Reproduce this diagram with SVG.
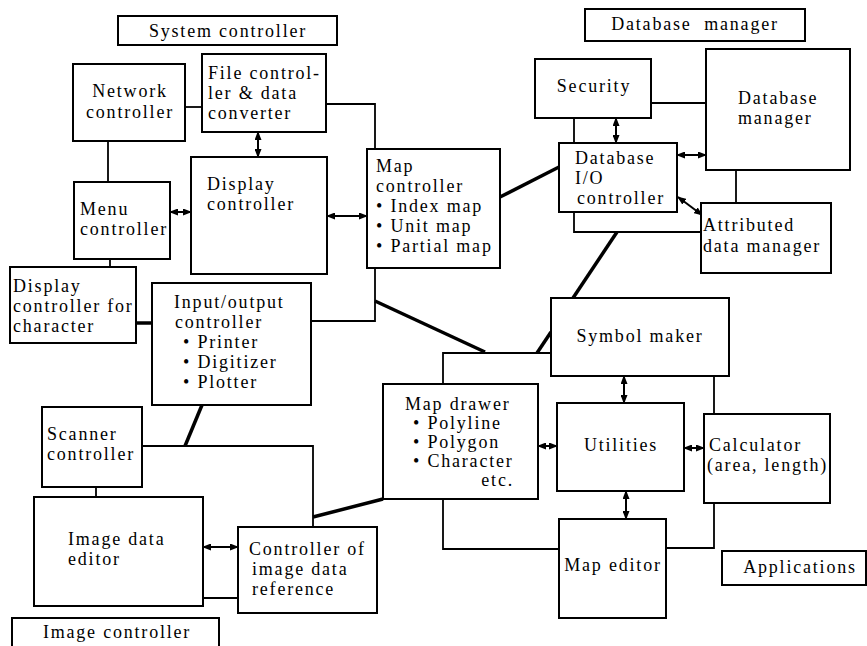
<svg xmlns="http://www.w3.org/2000/svg" width="867" height="646" viewBox="0 0 867 646">
<style>
.box{fill:#fff;stroke:#000;stroke-width:2}
.t{font-family:"Liberation Serif","Times New Roman",serif;font-size:18px;letter-spacing:1.8px;fill:#000}
.m{text-anchor:middle}
.ln{fill:none;stroke:#000;stroke-width:1.8}
.thk{fill:none;stroke:#000;stroke-width:3.5}
.arr{fill:none;stroke:#000;stroke-width:2;marker-start:url(#ah);marker-end:url(#ah)}
</style>
<defs>
<marker id="ah" markerUnits="userSpaceOnUse" markerWidth="9" markerHeight="7" refX="8" refY="3.5" orient="auto-start-reverse">
<path d="M0,0 L9,3.5 L0,7 z" fill="#000"/>
</marker>
</defs>
<rect width="867" height="646" fill="#fff"/>
<g id="connectors">
<path class="ln" d="M185,107 H202"/>
<path class="ln" d="M326,104 H375 V321 H311"/>
<path class="ln" d="M108,141 V182"/>
<path class="ln" d="M110,259 V267"/>
<path class="thk" d="M136,323 H152"/>
<path class="thk" d="M202,405 L185,446"/>
<path class="ln" d="M142,446 H313 V527"/>
<path class="ln" d="M96,487 V497"/>
<path class="ln" d="M203,598 H238"/>
<path class="thk" d="M313,517 L383,499"/>
<path class="thk" d="M375,301 L485,352"/>
<path class="ln" d="M551,353 H443 V549 H559"/>
<path class="thk" d="M537,353 L551,332"/>
<path class="ln" d="M714,376 V548 H666"/>
<path class="thk" d="M500,197 L559,167"/>
<path class="thk" d="M617,232 L573,298"/>
<path class="ln" d="M651,103 H706"/>
<path class="ln" d="M574,118 V232 H701"/>
<path class="ln" d="M736,170 V203"/>
<path class="arr" d="M258,132 V157"/>
<path class="arr" d="M170,212 H191"/>
<path class="arr" d="M327,216 H367"/>
<path class="arr" d="M616,118 V143"/>
<path class="arr" d="M677,155 H706"/>
<path class="arr" d="M678,197 L702,215"/>
<path class="arr" d="M203,547 H238"/>
<path class="arr" d="M538,446 H557"/>
<path class="arr" d="M624,376 V403"/>
<path class="arr" d="M684,448 H704"/>
<path class="arr" d="M626,491 V519"/>
</g>
<g id="label-system-controller">
<rect class="box" x="118" y="16" width="219" height="29"/>
<text class="t m" x="228" y="37">System controller</text>
</g>
<g id="network-controller">
<rect class="box" x="73" y="64" width="112" height="77"/>
<text class="t m" x="130" y="97">Network</text>
<text class="t m" x="130" y="118">controller</text>
</g>
<g id="file-controller">
<rect class="box" x="202" y="54" width="124" height="78"/>
<text class="t" x="208" y="79">File control-</text>
<text class="t" x="208" y="99">ler &amp; data</text>
<text class="t" x="208" y="119">converter</text>
</g>
<g id="display-controller">
<rect class="box" x="191" y="157" width="136" height="117"/>
<text class="t" x="207" y="190">Display</text>
<text class="t" x="207" y="210">controller</text>
</g>
<g id="menu-controller">
<rect class="box" x="74" y="182" width="96" height="77"/>
<text class="t" x="80" y="215">Menu</text>
<text class="t" x="80" y="235">controller</text>
</g>
<g id="display-controller-character">
<rect class="box" x="10" y="267" width="126" height="76"/>
<text class="t" x="13" y="292">Display</text>
<text class="t" x="13" y="312">controller for</text>
<text class="t" x="13" y="332">character</text>
</g>
<g id="io-controller">
<rect class="box" x="152" y="283" width="159" height="122"/>
<text class="t" x="174" y="308">Input/output</text>
<text class="t" x="175" y="328">controller</text>
<text class="t" x="183" y="348">• Printer</text>
<text class="t" x="183" y="368">• Digitizer</text>
<text class="t" x="183" y="388">• Plotter</text>
</g>
<g id="map-controller">
<rect class="box" x="367" y="149" width="133" height="119"/>
<text class="t" x="376" y="172">Map</text>
<text class="t" x="376" y="192">controller</text>
<text class="t" x="376" y="212">• Index map</text>
<text class="t" x="376" y="232">• Unit map</text>
<text class="t" x="376" y="252">• Partial map</text>
</g>
<g id="scanner-controller">
<rect class="box" x="42" y="407" width="100" height="80"/>
<text class="t" x="47" y="440">Scanner</text>
<text class="t" x="47" y="460">controller</text>
</g>
<g id="image-data-editor">
<rect class="box" x="34" y="497" width="169" height="109"/>
<text class="t" x="68" y="545">Image data</text>
<text class="t" x="68" y="565">editor</text>
</g>
<g id="image-data-reference">
<rect class="box" x="238" y="527" width="139" height="86"/>
<text class="t" x="249" y="555">Controller of</text>
<text class="t" x="252" y="575">image data</text>
<text class="t" x="252" y="595">reference</text>
</g>
<g id="label-image-controller">
<rect class="box" x="12" y="618" width="207" height="34"/>
<text class="t m" x="117" y="638">Image controller</text>
</g>
<g id="label-database-manager">
<rect class="box" x="585" y="9" width="220" height="32"/>
<text class="t m" x="695" y="30" xml:space="preserve">Database  manager</text>
</g>
<g id="security">
<rect class="box" x="535" y="59" width="116" height="59"/>
<text class="t m" x="594" y="92">Security</text>
</g>
<g id="database-manager">
<rect class="box" x="706" y="49" width="144" height="121"/>
<text class="t" x="738" y="104">Database</text>
<text class="t" x="738" y="124">manager</text>
</g>
<g id="database-io-controller">
<rect class="box" x="559" y="143" width="118" height="69"/>
<text class="t" x="575" y="164">Database</text>
<text class="t" x="575" y="184">I/O</text>
<text class="t" x="577" y="204">controller</text>
</g>
<g id="attributed-data-manager">
<rect class="box" x="701" y="203" width="130" height="70"/>
<text class="t" x="703" y="231">Attributed</text>
<text class="t" x="703" y="252">data manager</text>
</g>
<g id="symbol-maker">
<rect class="box" x="551" y="298" width="178" height="78"/>
<text class="t m" x="640" y="342">Symbol maker</text>
</g>
<g id="map-drawer">
<rect class="box" x="383" y="384" width="155" height="115"/>
<text class="t" x="405" y="410">Map drawer</text>
<text class="t" x="413" y="429">• Polyline</text>
<text class="t" x="413" y="448">• Polygon</text>
<text class="t" x="413" y="467">• Character</text>
<text class="t" x="514" y="486" text-anchor="end">etc.</text>
</g>
<g id="utilities">
<rect class="box" x="557" y="403" width="127" height="88"/>
<text class="t m" x="621" y="451">Utilities</text>
</g>
<g id="calculator">
<rect class="box" x="704" y="414" width="126" height="89"/>
<text class="t" x="709" y="451">Calculator</text>
<text class="t" x="707" y="471">(area, length)</text>
</g>
<g id="map-editor">
<rect class="box" x="559" y="519" width="107" height="99"/>
<text class="t m" x="613" y="571">Map editor</text>
</g>
<g id="label-applications">
<rect class="box" x="722" y="551" width="144" height="34"/>
<text class="t m" x="800" y="573">Applications</text>
</g>
</svg>
